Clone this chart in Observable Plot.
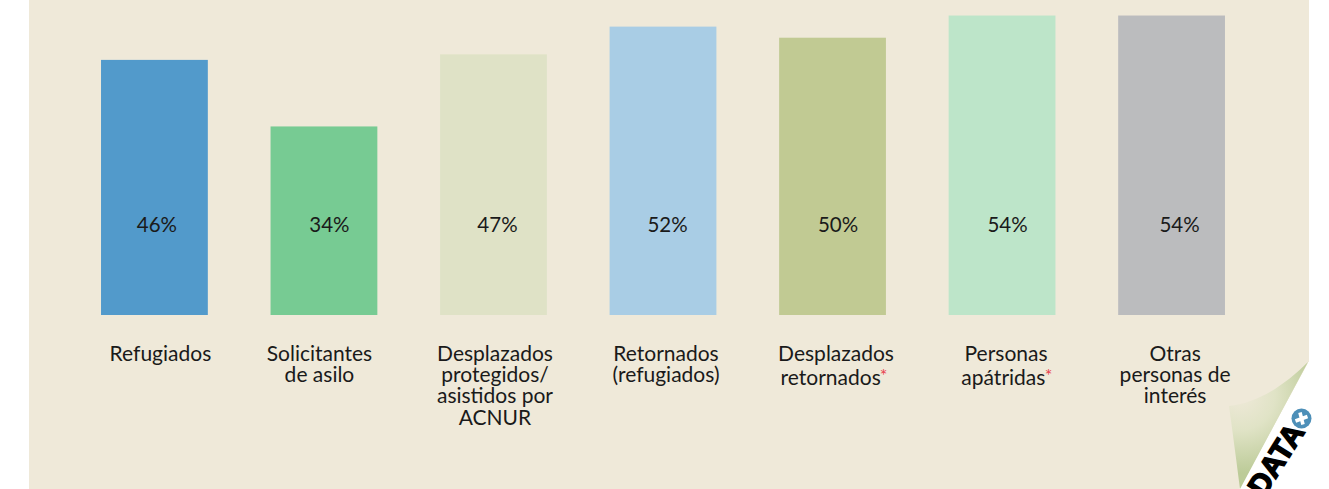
<!DOCTYPE html>
<html lang="es">
<head>
<meta charset="utf-8">
<script src="https://cdn.jsdelivr.net/npm/d3@7"></script>
<script src="https://cdn.jsdelivr.net/npm/@observablehq/plot@0.6"></script>
<style>
html,body{margin:0;padding:0;background:#fff;width:1329px;height:489px;overflow:hidden}
#wrap{position:relative;width:1329px;height:489px}
#paper{position:absolute;left:29px;top:0;width:1280px;height:489px;background:#efe9d9}
#chart{position:absolute;left:0;top:0}
#curl{position:absolute;left:0;top:0;pointer-events:none}
</style>
</head>
<body>
<div id="wrap">
  <div id="paper"></div>
  <div id="chart"></div>
  <svg id="curl" width="1329" height="489" viewBox="0 0 1329 489">
    <defs>
      <radialGradient id="g" gradientUnits="userSpaceOnUse" cx="1240" cy="395" r="78">
        <stop offset="0" stop-color="#efe9d9"/>
        <stop offset="0.45" stop-color="#e0e3c6"/>
        <stop offset="1" stop-color="#bccb98"/>
      </radialGradient>
    </defs>
    <path d="M1309 362 L1309 489 L1240 489 Z" fill="#fff" stroke="#fff"/>
    <path d="M1308 362 C1285 385 1258 403 1229 406 C1233 435 1237 465 1240 489 Z" fill="url(#g)"/>
    <g transform="translate(1264 498) rotate(-58)">
      <text x="0" y="0" font-family="Liberation Sans" font-weight="700" font-size="30" fill="#000" stroke="#000" stroke-width="1.6" textLength="78" lengthAdjust="spacingAndGlyphs">DATA</text>
    </g>
    <circle cx="1301.5" cy="418.5" r="10" fill="#4d8fb8"/>
    <path d="M1295.5 421 L1307.5 416.5 M1300 412.5 L1303 424.5" stroke="#fff" stroke-width="3.6"/>
  </svg>
</div>
<script>
const categories = ["Refugiados","Solicitantes","Desplazados prot","Retornados","Desplazados ret","Personas","Otras"];
const labels = [
  "Refugiados",
  "Solicitantes\nde asilo",
  "Desplazados\nprotegidos/\nasistidos por\nACNUR",
  "Retornados\n(refugiados)",
  "Desplazados\nretornados",
  "Personas\napátridas",
  "Otras\npersonas de\ninterés"
];
const values = [46,34,47,52,50,54,54];
const colors = ["#529acb","#77cb93","#dfe2c6","#a9cde5","#c1ca93","#bde5c9","#bbbcbe"];
const starred = ["Desplazados ret","Personas"];

const rows = categories.map((c,i)=>({c,label:labels[i],v:values[i],col:colors[i]}));
const font = "Lato, sans-serif";
const percentNudge = [2,5,3.5,4,5,5,7.5];
const labelNudge = [5.5,-5,1,2.5,3,3.5,3];
const starNudge = [50.5,46];
const starPad = {"Desplazados ret":"\u00a0\u00a0","Personas":"\u00a0"};
const percentSize = 20.5;
const labelSize = 21;

const chart = Plot.plot({
  width:1329, height:489,
  marginLeft:38.3, marginRight:41.3, marginTop:0, marginBottom:174,
  style:{background:"transparent",fontFamily:font},
  x:{domain:categories,padding:0.37,round:false,axis:null},
  y:{domain:[0,56.8],axis:null},
  marks:[
    Plot.barY(rows,{x:"c",y:"v",fill:d=>d.col}),
    ...rows.map((r,i)=>Plot.text([r],{x:"c",y:0,dy:-90,dx:percentNudge[i],text:d=>d.v+"%",fontSize:percentSize,fill:"#1a1a1a"})),
    ...rows.map((r,i)=>{
      const star = starred.includes(r.c);
      return Plot.text([r],{x:"c",y:0,dy:star?28:30,dx:labelNudge[i],text:d=>d.label+(starPad[d.c]||""),lineAnchor:"top",
        lineHeight:(star?24:21.4)/labelSize,fontSize:labelSize,fill:"#1a1a1a"});
    }),
    ...starred.map((c,i)=>Plot.text(rows.filter(r=>r.c===c),{x:"c",y:0,dy:61,dx:starNudge[i],text:()=>"*",fontSize:18,fill:"#e8434f"}))
  ]
});
document.getElementById("chart").append(chart);
</script>
</body>
</html>
